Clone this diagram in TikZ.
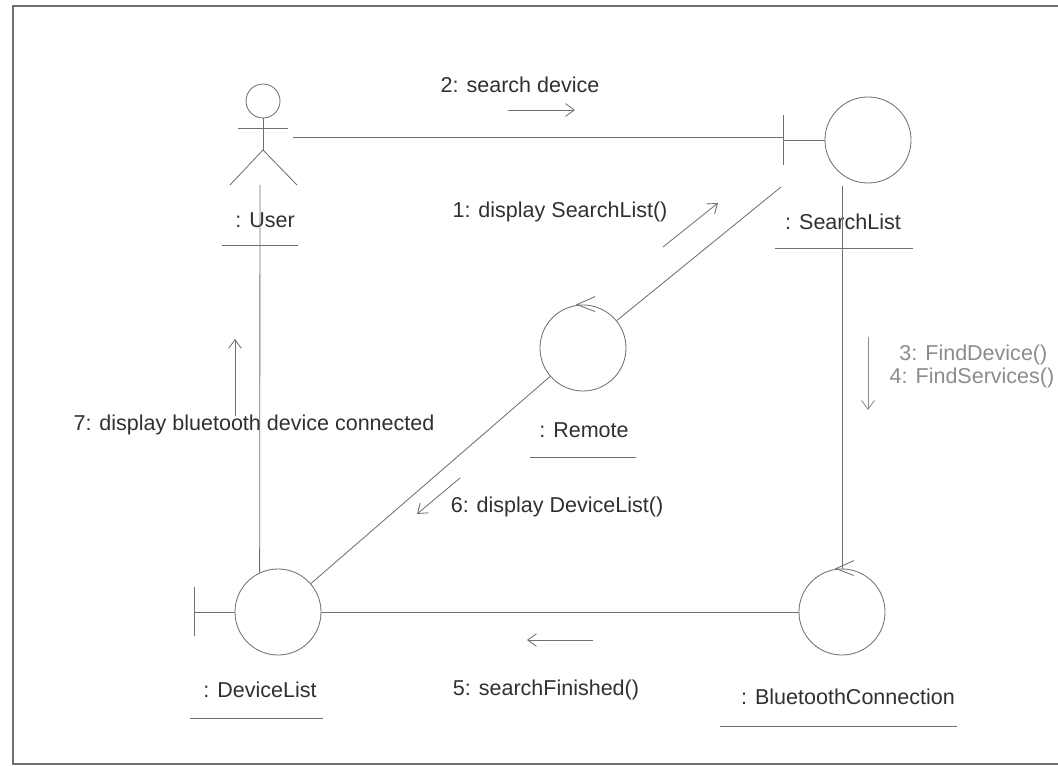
\documentclass[tikz,border=0pt]{standalone}
\usepackage{fontspec}
\setmainfont{Liberation Sans}
\usetikzlibrary{arrows.meta, calc}
\definecolor{linegray}{HTML}{707070}
\definecolor{inkgray}{HTML}{303030}
\definecolor{palegray}{HTML}{8C8C8C}
\tikzset{
  obj/.style={circle, draw=linegray, line width=0.6pt, minimum size=2.15cm, inner sep=0pt},
  link/.style={draw=linegray, line width=0.6pt},
  msg/.style={draw=linegray, line width=0.6pt, -{Straight Barb[length=2.2mm, width=3.2mm]}},
  txt/.style={text=inkgray, inner sep=1pt, font=\fontsize{15.3}{18}\selectfont}
}
\begin{document}
\begin{tikzpicture}[x=0.025cm, y=-0.025cm]
\useasboundingbox (0,0) rectangle (1058,766);
\draw[linegray, line width=0.8pt] (1058,6) -- (13,6) -- (13,764) -- (1058,764);

% actor
\draw[linegray, line width=0.6pt] (263,101) circle[radius=17];
\draw[linegray, line width=0.6pt] (238,128) -- (288,128);
\draw[linegray, line width=0.6pt] (263,118) -- (263,150);
\draw[linegray, line width=0.6pt] (230,185) -- (263,150) -- (297,185);
\coordinate (usr) at (293,137);
\coordinate (usrfoot) at (260,185);
\node[txt] (usrlbl) at (265,220) {: User};
\draw[link] (222,245) -- (298,245);

% objects
\node[obj] (search) at (868,140) {};
\node[obj] (remote) at (583,348) {};
\node[obj] (devlist) at (278,612) {};
\node[obj] (btconn) at (842,612) {};

% boundary bars
\draw[link] (783,115) -- (783,165);
\draw[link] (783,140) -- (search.west);
\draw[link] (194,587) -- (194,636);
\draw[link] (194,612) -- (devlist.west);

% control arrow tips
\draw[link] ($(remote.north)+(12,-8)$) -- ($(remote.north)+(-6,0)$) -- ($(remote.north)+(12,7)$);
\draw[link] ($(btconn.north)+(12,-8)$) -- ($(btconn.north)+(-6,0)$) -- ($(btconn.north)+(12,7)$);

% object names
\node[txt] (searchlbl) at (843,222) {: SearchList};
\draw[link] (775,248) -- (913,248);
\node[txt] (remotelbl) at (584,430) {: Remote};
\draw[link] (530,457) -- (636,457);
\node[txt] (devlistlbl) at (260,690) {: DeviceList};
\draw[link] (190,718) -- (323,718);
\node[txt] (btconnlbl) at (848,697) {: BluetoothConnection};
\draw[link] (720,726) -- (957,726);

% links
\coordinate (searchfoot) at (781,187);
\coordinate (searchdrop) at (842,186);
\draw[link] (usr) -- (783,137);
\draw[link] (usrfoot) -- (devlist.115);
\draw[link] (remote) -- (searchfoot);
\draw[link] (remote) -- (devlist);
\draw[link] (devlist) -- (btconn);
\draw[link] (searchdrop) -- (btconn.north);

% messages
\node[txt] (m2) at (520,85) {2: search device};
\draw[msg] (508,110) -- (575,110);
\node[txt] (m1) at (560,212) {1: display SearchList()};
\draw[msg] (663,247) -- (718,203);
\node[txt, text=palegray, anchor=east] (m3) at (1049,355) {3: FindDevice()};
\node[txt, text=palegray, anchor=east] (m4) at (1056,378) {4: FindServices()};
\draw[msg, draw=palegray] (868,337) -- (868,410);
\node[txt] (m5) at (546,690) {5: searchFinished()};
\draw[msg] (593,640) -- (527,640);
\node[txt] (m6) at (557,507) {6: display DeviceList()};
\draw[msg] (460,478) -- (417,514);
\node[txt] (m7) at (254,425) {7: display bluetooth device connected};
\draw[msg] (235,416) -- (235,339);
\end{tikzpicture}
\end{document}
